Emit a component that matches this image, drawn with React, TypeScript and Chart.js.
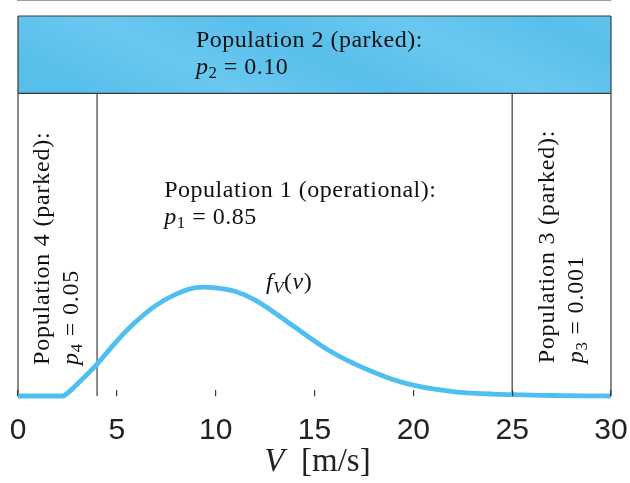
import { useEffect, useRef } from 'react';
import { Chart, registerables } from 'chart.js';

Chart.register(...registerables);

// wind speed grid [m/s] and density f_V(v)
const V_VALUES = [0, 1, 2, 2.3, 3, 4, 5, 6, 7, 8, 9, 10, 11, 12, 13, 14, 15, 16, 17, 18, 19, 20, 21, 22, 23, 24, 25, 26, 27, 28, 29, 30];
const PDF_VALUES = [0, 0, 0, 0, 0.0099, 0.0264, 0.0454, 0.0619, 0.0751, 0.0842, 0.0895, 0.0893, 0.0863, 0.0793, 0.0685, 0.0570, 0.0454, 0.0351, 0.0268, 0.0196, 0.0135, 0.0090, 0.0058, 0.0037, 0.0024, 0.0016, 0.0011, 0.0007, 0.0004, 0.0002, 0.0001, 0];
const X_TICKS = [0, 5, 10, 15, 20, 25, 30];
const BOUNDARIES = [4, 25]; // cut-in / cut-out speeds
const X_MIN = 0;
const X_MAX = 30;
const Y_MAX = 0.314;
const BAND_BOTTOM = 0.25; // lower edge of the "parked" band (population 2)

const SERIF = '"Liberation Serif", "Times New Roman", serif';
const LINE = '#3a3a3a';
const CURVE = '#4ebfee';
const BAND = '#5bc1ec';

type Part = { t: string; italic?: boolean; sub?: boolean };

function drawRich(ctx: CanvasRenderingContext2D, parts: Part[], x: number, y: number, size: number) {
  let cx = x;
  for (const p of parts) {
    const fs = p.sub ? size * 0.7 : size;
    ctx.font = `${p.italic ? 'italic ' : ''}${fs}px ${SERIF}`;
    const dy = p.sub ? size * 0.22 : 0;
    ctx.fillText(p.t, cx, y + dy);
    cx += ctx.measureText(p.t).width;
  }
}

function bandFill(c: any) {
  const chart = c.chart;
  const area = chart.chartArea;
  if (!area) return BAND;
  const x0 = area.left;
  const y0 = area.top + 40;
  const g = chart.ctx.createLinearGradient(x0, y0, x0 + 240, y0 - 480);
  const stops = 8;
  for (let i = 0; i <= stops; i++) {
    g.addColorStop(i / stops, i % 2 === 0 ? '#58bfeb' : '#6ac8f0');
  }
  return g;
}

const annotations = {
  id: 'annotations',
  afterDatasetsDraw(chart: any) {
    const ctx: CanvasRenderingContext2D = chart.ctx;
    const xs = chart.scales.x;
    const ys = chart.scales.y;
    const size = 24;
    ctx.save();
    ctx.fillStyle = '#111';
    ctx.textAlign = 'left';
    ctx.textBaseline = 'middle';
    (ctx as any).letterSpacing = '0.5px';

    // Population 2 (band)
    drawRich(ctx, [{ t: 'Population 2 (parked):' }], xs.getPixelForValue(9.0), ys.getPixelForValue(0.294), size);
    drawRich(ctx, [{ t: 'p', italic: true }, { t: '2', sub: true }, { t: ' = 0.10' }], xs.getPixelForValue(9.0), ys.getPixelForValue(0.271), size);

    // Population 1
    drawRich(ctx, [{ t: 'Population 1 (operational):' }], xs.getPixelForValue(7.4), ys.getPixelForValue(0.170), size);
    drawRich(ctx, [{ t: 'p', italic: true }, { t: '1', sub: true }, { t: ' = 0.85' }], xs.getPixelForValue(7.4), ys.getPixelForValue(0.147), size);

    // f_V(v)
    drawRich(ctx, [{ t: 'f', italic: true }, { t: 'V', italic: true, sub: true }, { t: '(' }, { t: 'v', italic: true }, { t: ')' }], xs.getPixelForValue(12.55), ys.getPixelForValue(0.0933), size);

    const rot = (parts: Part[], xv: number, yv: number) => {
      ctx.save();
      ctx.translate(xs.getPixelForValue(xv), ys.getPixelForValue(yv));
      ctx.rotate(-Math.PI / 2);
      drawRich(ctx, parts, 0, 0, size);
      ctx.restore();
    };
    (ctx as any).letterSpacing = '0.8px';
    // Population 4
    rot([{ t: 'Population 4 (parked):' }], 1.26, 0.0256);
    rot([{ t: 'p', italic: true }, { t: '4', sub: true }, { t: ' = 0.05' }], 2.73, 0.0256);
    // Population 3
    rot([{ t: 'Population 3 (parked):' }], 26.8, 0.027);
    rot([{ t: 'p', italic: true }, { t: '3', sub: true }, { t: ' = 0.001' }], 28.28, 0.027);

    // axis title
    (ctx as any).letterSpacing = '0px';
    ctx.fillStyle = '#222';
    const titleParts: Part[] = [{ t: 'V', italic: true }, { t: '  [m/s]' }];
    const tsize = 33;
    let w = 0;
    for (const p of titleParts) {
      ctx.font = `${p.italic ? 'italic ' : ''}${tsize}px ${SERIF}`;
      w += ctx.measureText(p.t).width;
    }
    const cx = (chart.chartArea.left + chart.chartArea.right) / 2 + 3;
    drawRich(ctx, titleParts, cx - w / 2, 462, tsize);
    ctx.restore();
  },
};

export default function App() {
  const ref = useRef<HTMLCanvasElement | null>(null);

  useEffect(() => {
    if (!ref.current) return;
    const curve = V_VALUES.map((v, i) => ({ x: v, y: PDF_VALUES[i] }));
    const seg = (x1: number, y1: number, x2: number, y2: number) => [
      { x: x1, y: y1 },
      { x: x2, y: y2 },
    ];
    const lineDs = (data: any[], color = LINE, order = 2) => ({
      data,
      borderColor: color,
      borderWidth: 1.2,
      pointRadius: 0,
      fill: false,
      clip: false as any,
      order,
    });

    const chart = new Chart(ref.current, {
      type: 'line',
      data: {
        datasets: [
          {
            data: curve,
            borderColor: CURVE,
            borderWidth: 4.8,
            pointRadius: 0,
            tension: 0.4,
            fill: false,
            clip: false as any,
            order: 0,
          },
          {
            data: seg(X_MIN, Y_MAX, X_MAX, Y_MAX),
            borderWidth: 0,
            borderColor: 'rgba(0,0,0,0)',
            backgroundColor: bandFill,
            pointRadius: 0,
            fill: { value: BAND_BOTTOM },
            order: 5,
          },
          lineDs(seg(X_MIN, BAND_BOTTOM, X_MAX, BAND_BOTTOM)),
          ...BOUNDARIES.map((b) => lineDs(seg(b, 0, b, BAND_BOTTOM))),
          lineDs(seg(X_MIN, 0, X_MIN, Y_MAX)),
          lineDs(seg(X_MAX, 0, X_MAX, Y_MAX)),
          lineDs(seg(X_MIN, Y_MAX, X_MAX, Y_MAX)),
        ] as any,
      },
      options: {
        animation: false,
        responsive: false,
        devicePixelRatio: 1,
        layout: { padding: { left: 18, right: 19, top: 16, bottom: 0 } },
        plugins: { legend: { display: false }, tooltip: { enabled: false }, title: { display: false } },
        scales: {
          x: {
            type: 'linear',
            position: 'bottom',
            min: X_MIN,
            max: X_MAX,
            afterBuildTicks: (s: any) => {
              s.ticks = X_TICKS.map((v) => ({ value: v }));
            },
            afterFit: (s: any) => {
              s.height = 87;
              s.paddingLeft = 0;
              s.paddingRight = 0;
            },
            ticks: {
              padding: 23,
              color: '#222',
              font: { family: '"Liberation Sans", Arial, sans-serif', size: 30 },
              maxRotation: 0,
            },
            grid: { drawOnChartArea: false, tickLength: -6, color: LINE, lineWidth: 1.2, z: 1 },
            border: { display: true, color: LINE, width: 1.2 },
          },
          y: { type: 'linear', min: 0, max: Y_MAX, display: false },
        },
      } as any,
      plugins: [annotations],
    });
    return () => chart.destroy();
  }, []);

  return (
    <div style={{ position: 'fixed', left: 0, top: 0, width: 630, height: 483, background: '#fff' }}>
      <canvas ref={ref} width={630} height={483} style={{ width: 630, height: 483 }} />
    </div>
  );
}
